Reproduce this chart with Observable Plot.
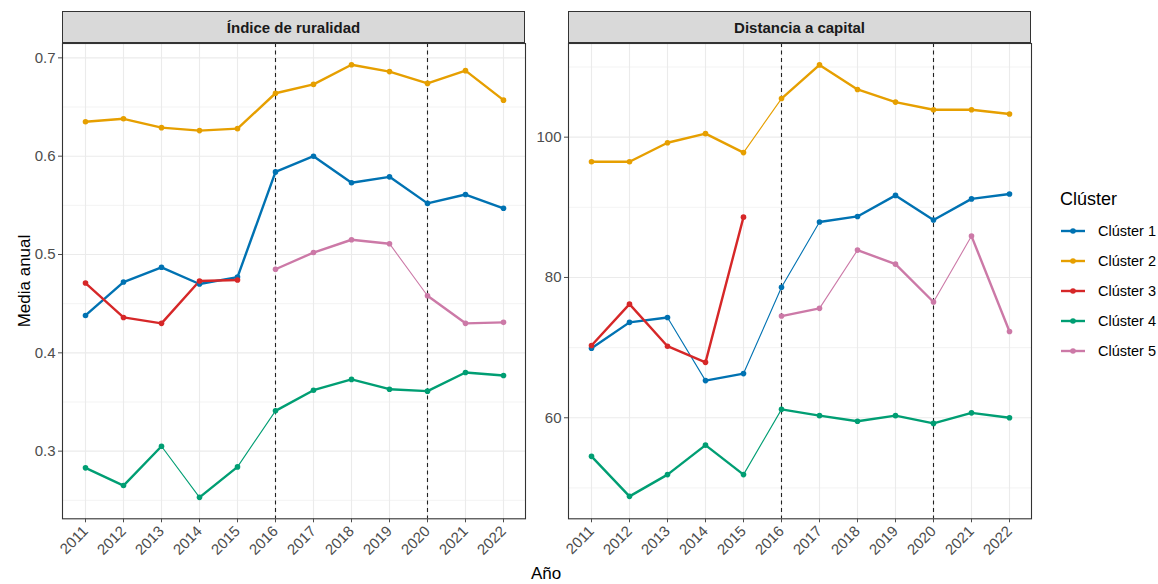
<!DOCTYPE html>
<html>
<head>
<meta charset="utf-8">
<script src="https://cdn.jsdelivr.net/npm/d3@7"></script>
<script src="https://cdn.jsdelivr.net/npm/@observablehq/plot@0.6"></script>
<style>
  html, body { margin: 0; padding: 0; background: #fff; }
  #wrap { position: relative; width: 1158px; height: 584px; overflow: hidden; font-family: "Liberation Sans", Arial, sans-serif; }
  .abs { position: absolute; }
  .strip { position: absolute; box-sizing: border-box; height: 32px; top: 11px; background: #d9d9d9; border: 1px solid #333;
           display: flex; align-items: center; justify-content: center; font-weight: bold; font-size: 15px; color: #1a1a1a;
           font-family: "Liberation Sans Narrow", "Liberation Sans", Arial, sans-serif; }
  .axtitle { position: absolute; font-size: 17px; color: #000; }
  .leg { position: absolute; left: 1060px; top: 189px; }
  .legtitle { font-size: 18px; color: #000; margin-bottom: 6px; }
  .legitem { display: flex; align-items: center; height: 30px; font-size: 14.5px; color: #000; }
  .legitem svg { margin-right: 12px; }
</style>
</head>
<body>
<div id="wrap"></div>
<script>
// ---------- data ----------
const years = [2011, 2012, 2013, 2014, 2015, 2016, 2017, 2018, 2019, 2020, 2021, 2022];
const clusters = ["Clúster 1", "Clúster 2", "Clúster 3", "Clúster 4", "Clúster 5"];
const colors = ["#0072B2", "#E69F00", "#D62728", "#009E73", "#CC79A7"];
const breakYears = [2016, 2020];

// Índice de ruralidad
const rural1 = [0.438, 0.472, 0.487, 0.470, 0.477, 0.584, 0.600, 0.573, 0.579, 0.552, 0.561, 0.547];
const rural2 = [0.635, 0.638, 0.629, 0.626, 0.628, 0.664, 0.673, 0.693, 0.686, 0.674, 0.687, 0.657];
const rural3 = [0.471, 0.436, 0.430, 0.473, 0.474, null, null, null, null, null, null, null];
const rural4 = [0.283, 0.265, 0.305, 0.253, 0.284, 0.341, 0.362, 0.373, 0.363, 0.361, 0.380, 0.377];
const rural5 = [null, null, null, null, null, 0.485, 0.502, 0.515, 0.511, 0.458, 0.430, 0.431];
// segments (by start year) drawn with a thin line
const ruralThin = { "Clúster 4": [2013, 2015], "Clúster 5": [2019] };

// Distancia a capital
const dist1 = [69.9, 73.6, 74.3, 65.3, 66.3, 78.6, 87.9, 88.7, 91.7, 88.2, 91.2, 91.9];
const dist2 = [96.5, 96.5, 99.2, 100.5, 97.8, 105.5, 110.3, 106.8, 105.0, 103.9, 103.9, 103.3];
const dist3 = [70.3, 76.2, 70.2, 67.9, 88.6, null, null, null, null, null, null, null];
const dist4 = [54.5, 48.8, 51.9, 56.1, 51.9, 61.2, 60.3, 59.5, 60.3, 59.2, 60.7, 60.0];
const dist5 = [null, null, null, null, null, 74.5, 75.6, 83.9, 81.9, 76.5, 85.9, 72.3];
const distThin = { "Clúster 1": [2013, 2015, 2016], "Clúster 2": [2015], "Clúster 4": [2015], "Clúster 5": [2017, 2020] };

const ruralTicks = [0.3, 0.4, 0.5, 0.6, 0.7];
const ruralMinor = [0.25, 0.35, 0.45, 0.55, 0.65];
const distTicks = [60, 80, 100];
const distMinor = [50, 70, 90, 110];

const panelTitles = ["Índice de ruralidad", "Distancia a capital"];
const yTitle = "Media anual";
const xTitle = "Año";
const legendTitle = "Clúster";

// ---------- drawing ----------
function panel(series, thin, yDomain, yTicks, yMinor, fmt, width, marginLeft) {
  const pts = [], segs = [];
  clusters.forEach((c, k) => {
    const v = series[k];
    years.forEach((yr, i) => {
      if (v[i] != null) pts.push({ cluster: c, year: yr, value: v[i] });
      if (i > 0 && v[i] != null && v[i - 1] != null) {
        segs.push({ cluster: c, yr1: years[i - 1], yr2: yr, v1: v[i - 1], v2: v[i],
                    thin: (thin[c] || []).includes(years[i - 1]) });
      }
    });
  });
  return Plot.plot({
    width, height: 584,
    marginLeft, marginRight: 2, marginTop: 43, marginBottom: 65.7,
    style: { background: "transparent", fontFamily: "Liberation Sans, Arial, sans-serif", fontSize: "15px", overflow: "visible" },
    x: { type: "point", domain: years, padding: 0.55, label: null },
    y: { domain: yDomain, label: null },
    color: { domain: clusters, range: colors },
    marks: [
      Plot.ruleY(yMinor, { stroke: "#ebebeb", strokeWidth: 0.6 }),
      Plot.ruleY(yTicks, { stroke: "#ebebeb", strokeWidth: 1.1 }),
      Plot.ruleX(years, { stroke: "#ebebeb", strokeWidth: 1.1 }),
      Plot.ruleX(breakYears, { stroke: "#222", strokeDasharray: "4,3.5", strokeWidth: 1.1 }),
      Plot.link(segs, { x1: "yr1", y1: "v1", x2: "yr2", y2: "v2", stroke: "cluster",
                        strokeWidth: d => d.thin ? 1.1 : 2.4, strokeLinecap: "round" }),
      Plot.dot(pts, { x: "year", y: "value", fill: "cluster", r: 2.8 }),
      Plot.frame({ stroke: "#333", strokeWidth: 1.1 }),
      Plot.axisY({ ticks: yTicks, tickFormat: fmt, tickSize: 4, tickPadding: 3, color: "#4d4d4d", label: null, fontSize: 15 }),
      Plot.axisX({ tickRotate: -45, tickSize: 4, tickPadding: 6, color: "#4d4d4d", label: null, fontSize: 15, tickFormat: d => String(d) })
    ]
  });
}

const wrap = document.getElementById("wrap");

const left = panel([rural1, rural2, rural3, rural4, rural5], ruralThin, [0.2312, 0.7146],
                   ruralTicks, ruralMinor, d3.format(".1f"), 527, 62);
left.classList.add("abs"); left.style.left = "0px"; left.style.top = "0px";
wrap.appendChild(left);

const right = panel([dist1, dist2, dist3, dist4, dist5], distThin, [45.6, 113.35],
                    distTicks, distMinor, d3.format("d"), 513, 48);
right.classList.add("abs"); right.style.left = "520px"; right.style.top = "0px";
wrap.appendChild(right);

// strips
[[62, 463], [568, 463]].forEach(([x, w], i) => {
  const s = document.createElement("div");
  s.className = "strip";
  s.style.left = x + "px"; s.style.width = w + "px";
  s.textContent = panelTitles[i];
  wrap.appendChild(s);
});

// axis titles
const yt = document.createElement("div");
yt.className = "axtitle";
yt.textContent = yTitle;
yt.style.left = "25px"; yt.style.top = "281px";
yt.style.transform = "translate(-50%,-50%) rotate(-90deg)";
yt.style.whiteSpace = "nowrap";
wrap.appendChild(yt);

const xt = document.createElement("div");
xt.className = "axtitle";
xt.textContent = xTitle;
xt.style.left = "546px"; xt.style.top = "574px";
xt.style.transform = "translate(-50%,-50%)";
wrap.appendChild(xt);

// legend
const leg = document.createElement("div");
leg.className = "leg";
const lt = document.createElement("div");
lt.className = "legtitle"; lt.textContent = legendTitle;
leg.appendChild(lt);
clusters.forEach((c, i) => {
  const item = document.createElement("div");
  item.className = "legitem";
  item.innerHTML = `<svg width="26" height="12"><line x1="1" x2="25" y1="6" y2="6" stroke="${colors[i]}" stroke-width="2.4"/><circle cx="13" cy="6" r="2.8" fill="${colors[i]}"/></svg><span>${c}</span>`;
  leg.appendChild(item);
});
wrap.appendChild(leg);
</script>
</body>
</html>
